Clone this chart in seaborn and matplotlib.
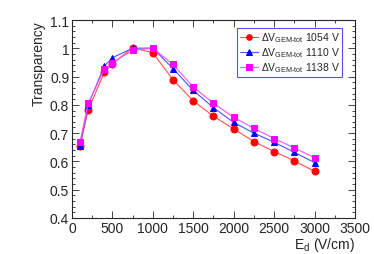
import matplotlib
matplotlib.use("Agg")
import matplotlib.pyplot as plt
import seaborn as sns
import pandas as pd
from matplotlib.ticker import MultipleLocator, FuncFormatter

# drift field values (V/cm)
e_drift = [100, 200, 400, 500, 750, 1000, 1250, 1500, 1750, 2000, 2250, 2500, 2750, 3000]

# transparency for each GEM total voltage
t_1054 = [0.655, 0.782, 0.915, 0.945, 1.002, 0.984, 0.889, 0.814, 0.760, 0.715, 0.670, 0.635, 0.602, 0.565]
t_1110 = [0.654, 0.800, 0.937, 0.967, 1.000, 1.001, 0.928, 0.851, 0.790, 0.738, 0.700, 0.668, 0.632, 0.596]
t_1138 = [0.670, 0.805, 0.926, 0.949, 0.993, 1.000, 0.943, 0.863, 0.806, 0.756, 0.717, 0.681, 0.648, 0.613]

labels = [r"$\Delta$V$_{\mathregular{GEM\text{-}tot}}$ 1054 V",
          r"$\Delta$V$_{\mathregular{GEM\text{-}tot}}$ 1110 V",
          r"$\Delta$V$_{\mathregular{GEM\text{-}tot}}$ 1138 V"]
series = [t_1054, t_1110, t_1138]
colors = ["#ff0000", "#0000ff", "#ff00ff"]
line_colors = ["#ff5050", "#5050ff", "#ff50ff"]
markers = ["o", "^", "s"]

sns.set_style("ticks")
plt.rcParams["font.family"] = ["Liberation Sans", "DejaVu Sans"]
plt.rcParams["mathtext.fontset"] = "custom"
plt.rcParams["mathtext.rm"] = "Liberation Sans"
plt.rcParams["mathtext.it"] = "Liberation Sans"

fig = plt.figure(figsize=(3.74, 2.55), dpi=100)
ax = fig.add_axes([0.1925, 0.1412, 0.7565, 0.7764])

for vals, lab, c, lc, m in zip(series, labels, colors, line_colors, markers):
    df = pd.DataFrame({"E": e_drift, "T": vals})
    sns.lineplot(data=df, x="E", y="T", ax=ax, color=lc, lw=0.8,
                 marker=m, markersize=5, markerfacecolor=c, markeredgecolor=c,
                 label=lab)

ax.set_xlim(0, 3500)
ax.set_ylim(0.4, 1.1)
ax.xaxis.set_major_locator(MultipleLocator(500))
ax.xaxis.set_minor_locator(MultipleLocator(250))
ax.yaxis.set_major_locator(MultipleLocator(0.1))
ax.yaxis.set_minor_locator(MultipleLocator(0.02))
ax.yaxis.set_major_formatter(FuncFormatter(lambda v, p: f"{v:g}"))
ax.tick_params(which="both", direction="in", top=True, right=True, labelsize=10, pad=2)
ax.tick_params(which="major", length=5, width=0.6)
ax.tick_params(which="minor", length=2.5, width=0.6)
for s in ax.spines.values():
    s.set_linewidth(0.8)

ax.set_xlabel(r"E$_{\mathregular{d}}$ (V/cm)", fontsize=10, loc="right", labelpad=0)
ax.set_ylabel("Transparency", fontsize=10, loc="top", labelpad=3)

leg = ax.legend(loc="upper right", bbox_to_anchor=(0.955, 0.96), fontsize=7.5,
                frameon=True, fancybox=False, borderpad=0.25, labelspacing=0.1,
                handlelength=1.8, handletextpad=0.2, markerscale=0.8,
                borderaxespad=0)
leg.get_frame().set_edgecolor("#5050ff")
leg.get_frame().set_linewidth(0.8)
leg.get_frame().set_alpha(1)

fig.savefig("out.png", dpi=100)
